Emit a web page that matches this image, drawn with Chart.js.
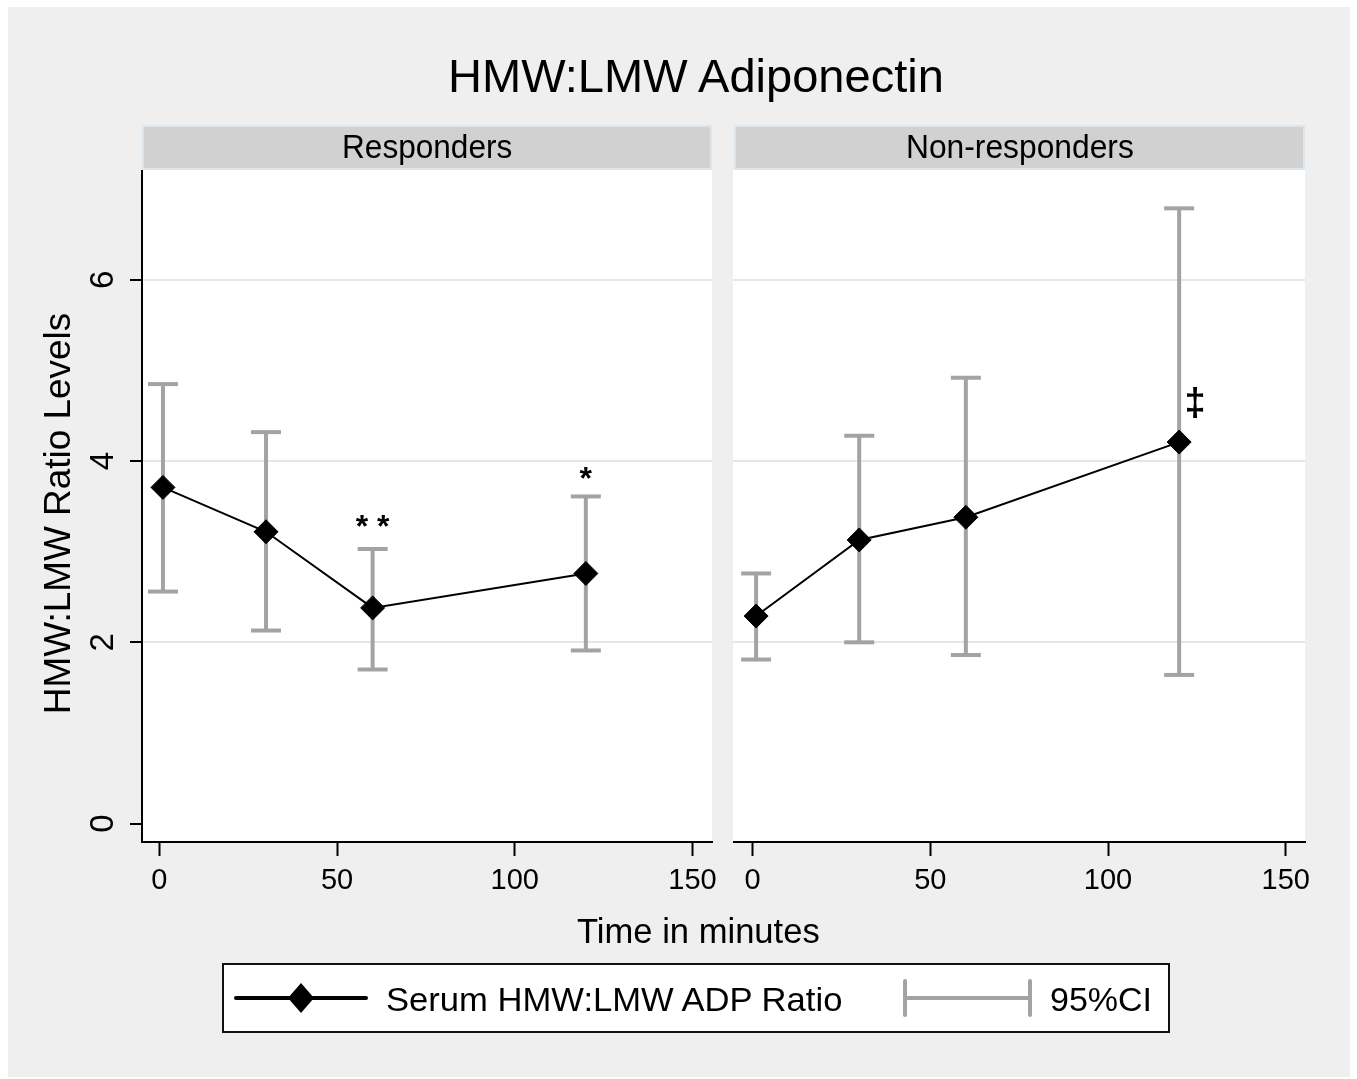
<!DOCTYPE html>
<html><head><meta charset="utf-8">
<script src="https://cdn.jsdelivr.net/npm/chart.js@4.4.1/dist/chart.umd.min.js"></script>
<style>
html,body{margin:0;padding:0;background:#fff;}
body{width:1357px;height:1079px;position:relative;overflow:hidden;font-family:"Liberation Sans",Arial,sans-serif;color:#000;}
#bg{position:absolute;left:8px;top:7px;width:1342px;height:1070px;background:#efefef;}
.strip{position:absolute;top:125px;height:45px;background:#d1d1d1;border:2px solid #dbe6ee;box-sizing:border-box;}
.txt{position:absolute;white-space:nowrap;line-height:1;}
canvas{position:absolute;}
#legend{position:absolute;left:222px;top:963px;width:948px;height:70px;background:#fff;border:2px solid #111;box-sizing:border-box;}
#legsvg{position:absolute;left:0;top:0;}
</style></head><body>
<div id="bg"></div>
<div class="strip" style="left:142px;width:570px"></div>
<div class="strip" style="left:734px;width:571px"></div>
<canvas id="c1" width="666" height="740" style="left:60px;top:170px;width:666px;height:740px"></canvas>
<canvas id="c2" width="587" height="740" style="left:733px;top:170px;width:587px;height:740px"></canvas>
<div id="legend"></div>
<svg id="legsvg" width="1357" height="1079">
  <line x1="236" y1="998" x2="366" y2="998" stroke="#000" stroke-width="4" stroke-linecap="round"/>
  <polygon points="301,983 314,998 301,1013 288,998" fill="#000"/>
  <line x1="905" y1="998" x2="1030" y2="998" stroke="#a3a3a3" stroke-width="4"/>
  <line x1="905" y1="981" x2="905" y2="1015" stroke="#a3a3a3" stroke-width="4" stroke-linecap="round"/>
  <line x1="1030" y1="981" x2="1030" y2="1015" stroke="#a3a3a3" stroke-width="4" stroke-linecap="round"/>
</svg>
<script>
// ---------- data ----------
const times = [1, 30, 60, 120];
const respMean = [3.71, 3.22, 2.38, 2.76];
const respLow  = [2.56, 2.13, 1.70, 1.91];
const respHigh = [4.85, 4.32, 3.03, 3.61];
const nonMean  = [2.29, 3.13, 3.38, 4.21];
const nonLow   = [1.81, 2.00, 1.86, 1.64];
const nonHigh  = [2.76, 4.28, 4.92, 6.79];
const xTickValues = [0, 50, 100, 150];
const xTickLabels = ['0', '50', '100', '150'];
const yTickValues = [0, 2, 4, 6];
const yTickLabels = ['0', '2', '4', '6'];
const respNotes = ['* *', '*'];
const respNoteT = [60, 120];
const respNoteY = [3.16, 3.69];
const nonNotes = ['\u2021'];
const nonNoteT = [124.5];
const nonNoteY = [4.51];
const panelTitles = ['Responders', 'Non-responders'];
const seriesLabel = 'Serum HMW:LMW ADP Ratio';
const ciLabel = '95%CI';

const GRAY = '#a3a3a3';

function hasFont(f){
  const c=document.createElement('canvas').getContext('2d');
  c.font='40px monospace'; const a=c.measureText('150 abcMW').width;
  c.font='40px "'+f+'", monospace'; return c.measureText('150 abcMW').width!==a;
}
const narrow = hasFont('Liberation Sans Narrow');
const xTickFont = narrow ? {family:'"Liberation Sans Narrow"', size:32} : {family:'"Liberation Sans"', size:29};

// ---------- html text ----------
function place(text, fs, x, cy, targetW, mode){
  const s=document.createElement('span'); s.className='txt'; s.textContent=text;
  s.style.fontSize=fs+'px'; document.body.appendChild(s);
  const w=s.offsetWidth; const k=targetW/w;
  s.style.transformOrigin='0 0';
  const left = mode==='left' ? x : x - targetW/2;
  s.style.left=left+'px'; s.style.top=(cy-0.49*fs)+'px';
  s.style.transform='scaleX('+k+')';
  return s;
}
function placeRot(text, fs, cx, cy, targetLen){
  const s=document.createElement('span'); s.className='txt'; s.textContent=text;
  s.style.fontSize=fs+'px'; document.body.appendChild(s);
  const w=s.offsetWidth; const k=targetLen/w;
  s.style.left=(cx-w/2)+'px'; s.style.top=(cy-fs/2)+'px';
  s.style.transformOrigin='50% 50%';
  s.style.transform='rotate(-90deg) scaleX('+k+')';
}
place('HMW:LMW Adiponectin', 46, 696, 76, 496);
place(panelTitles[0], 34, 427, 146, 170);
place(panelTitles[1], 34, 1020, 146, 228);
place('Time in minutes', 35, 698, 930, 243);
placeRot('HMW:LMW Ratio Levels', 37, 57, 513, 401);
place(seriesLabel, 34, 386, 999, 456, 'left');
place(ciLabel, 34, 1050, 999, 102, 'left');

// ---------- plugins ----------
const bgPlugin = {id:'bg', beforeDraw(chart){
  const a=chart.chartArea, c=chart.ctx; c.save(); c.fillStyle='#fff';
  c.fillRect(a.left, a.top, a.right-a.left, a.bottom-a.top); c.restore();
}};
function yLabelPlugin(show){ return {id:'ylab', afterDraw(chart){
  if(!show) return;
  const y=chart.scales.y, c=chart.ctx;
  c.save(); c.fillStyle='#000'; c.font='33px "Liberation Sans", Arial, sans-serif';
  c.textAlign='center'; c.textBaseline='middle';
  yTickValues.forEach((v,i)=>{
    const py=y.getPixelForValue(v);
    c.save(); c.translate(y.right-38, py); c.rotate(-Math.PI/2);
    c.fillText(yTickLabels[i], 0, 0); c.restore();
  });
  c.restore();
}};}
function notesPlugin(notes, nt, ny, size){ return {id:'notes', afterDatasetsDraw(chart){
  const x=chart.scales.x, y=chart.scales.y, c=chart.ctx;
  c.save(); c.fillStyle='#000'; c.font='bold '+size+'px "Liberation Sans", Arial, sans-serif';
  c.textAlign='center'; c.textBaseline='alphabetic';
  notes.forEach((n,i)=>c.fillText(n, x.getPixelForValue(nt[i]), y.getPixelForValue(ny[i])));
  c.restore();
}};}

function ciData(lows, highs){
  const d=[];
  times.forEach((t,i)=>{ d.push({x:t,y:lows[i]}); d.push({x:t,y:highs[i]}); d.push({x:t,y:null}); });
  return d;
}

function makePanel(id, means, lows, highs, xMin, xMax, showY, padRight, notes, nt, ny, noteSize){
  return new Chart(document.getElementById(id), {
    type:'line',
    data:{datasets:[
      {label:seriesLabel, data:times.map((t,i)=>({x:t,y:means[i]})), borderColor:'#000', borderWidth:2,
       pointStyle:'rectRot', pointRadius:12, pointBackgroundColor:'#000', pointBorderColor:'#000',
       pointBorderWidth:1, tension:0, order:0, clip:false},
      {label:ciLabel, data:ciData(lows, highs), borderColor:GRAY, borderWidth:4, pointStyle:'line',
       pointRadius:15, pointBorderWidth:4, pointBorderColor:GRAY, pointBackgroundColor:GRAY,
       spanGaps:false, order:1, clip:false}
    ]},
    options:{
      responsive:false, animation:false, events:[],
      layout:{autoPadding:false, padding:{left:0,right:padRight,top:0,bottom:0}},
      plugins:{legend:{display:false}, tooltip:{enabled:false}},
      scales:{
        x:{type:'linear', min:xMin, max:xMax,
           afterBuildTicks:s=>{s.ticks=xTickValues.map(v=>({value:v}));},
           afterFit:s=>{s.height=68;},
           ticks:{font:xTickFont, color:'#000', padding:8, maxRotation:0,
                  callback:v=>xTickLabels[xTickValues.indexOf(v)]},
           grid:{drawOnChartArea:false, tickLength:14, tickWidth:2, tickColor:'#000'},
           border:{color:'#000', width:2}},
        y:{type:'linear', min:-0.204, max:7.213,
           afterBuildTicks:s=>{s.ticks=yTickValues.map(v=>({value:v}));},
           afterFit:s=>{s.width=showY?82:0;},
           ticks:{display:false},
           grid:{color:c=>(c.tick && c.tick.value===0)?'rgba(0,0,0,0)':'#e6e6e6', lineWidth:2,
                 drawTicks:showY, tickLength:12, tickWidth:2, tickColor:'#000'},
           border:{display:showY, color:'#000', width:2}}
      }
    },
    plugins:[bgPlugin, yLabelPlugin(showY), notesPlugin(notes, nt, ny, noteSize)]
  });
}
makePanel('c1', respMean, respLow, respHigh, -4.9, 155.5, true, 14, respNotes, respNoteT, respNoteY, 32);
makePanel('c2', nonMean, nonLow, nonHigh, -5.5, 155.4, false, 15, nonNotes, nonNoteT, nonNoteY, 38);
</script>
</body></html>
